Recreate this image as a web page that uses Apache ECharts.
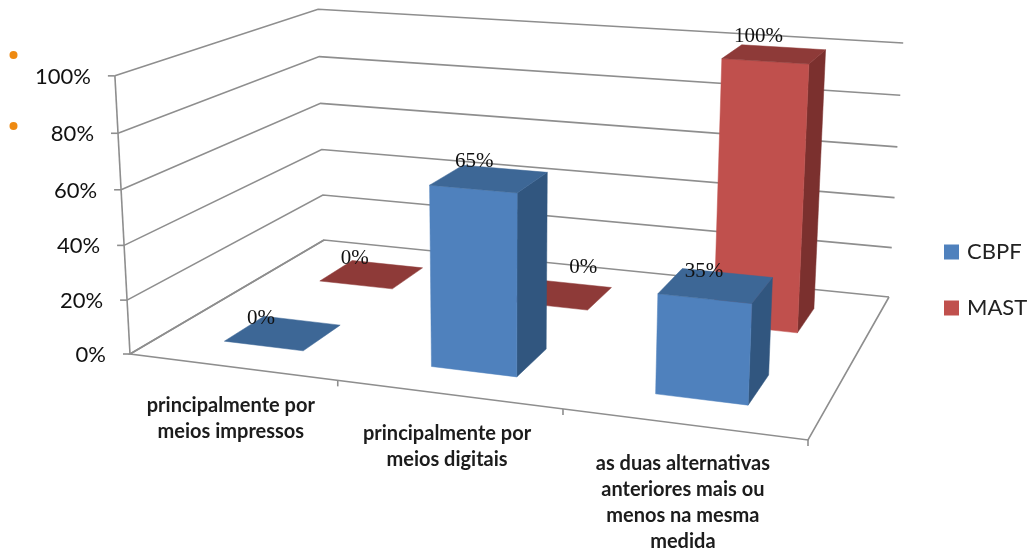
<!DOCTYPE html>
<html><head><meta charset="utf-8">
<style>html,body{margin:0;padding:0;background:#fff}#c{width:1034px;height:553px}</style>
<script src="https://cdn.jsdelivr.net/npm/echarts@6/dist/echarts.min.js"></script>
</head><body><div id="c"></div>
<script>
const categories = ['principalmente por\nmeios impressos','principalmente por\nmeios digitais','as duas alternativas\nanteriores mais ou\nmenos na mesma\nmedida'];
const cbpfValues = [0,65,35];
const mastValues = [0,0,100];
const yTicks = [0,20,40,60,80,100];

/* perspective frame of the box */
const FL=[130,354],FR=[808,440],BR=[889,297],BL=[324,240];
const FLt=[114,75],BRt=[903,43],BLt=[319,10];
function makeProjection(){
  const [x0,y0]=FL,[x1,y1]=FR,[x2,y2]=BR,[x3,y3]=BL;
  const dx1=x1-x2,dx2=x3-x2,sx=x0-x1+x2-x3,dy1=y1-y2,dy2=y3-y2,sy=y0-y1+y2-y3;
  const det=dx1*dy2-dx2*dy1;
  const g=(sx*dy2-dx2*sy)/det,h=(dx1*sy-sx*dy1)/det;
  const a=x1-x0+g*x1,b=x3-x0+h*x3,c=x0,d=y1-y0+g*y1,e=y3-y0+h*y3,f=y0;
  const rows=[],rhs=[];
  [[0,0,FLt],[1,1,BRt],[0,1,BLt]].forEach(([u,v,p])=>{
    const D=g*u+h*v+1;
    rows.push([1,0,-p[0]]);rhs.push(p[0]*D-(a*u+b*v+c));
    rows.push([0,1,-p[1]]);rhs.push(p[1]*D-(d*u+e*v+f));
  });
  const M=[0,1,2].map(i=>[0,1,2].map(j=>rows.reduce((s,r)=>s+r[i]*r[j],0)).concat(rows.reduce((s,r,k)=>s+r[i]*rhs[k],0)));
  for(let i=0;i<3;i++){
    let piv=i;for(let r=i+1;r<3;r++)if(Math.abs(M[r][i])>Math.abs(M[piv][i]))piv=r;
    [M[i],M[piv]]=[M[piv],M[i]];
    for(let r=0;r<3;r++)if(r!==i){const m=M[r][i]/M[i][i];for(let q=i;q<4;q++)M[r][q]-=m*M[i][q];}
  }
  const k1=M[0][3]/M[0][0],k2=M[1][3]/M[1][1],k3=M[2][3]/M[2][2];
  return (u,v,t)=>{const D=g*u+h*v+k3*t+1;return [(a*u+b*v+k1*t+c)/D,(d*u+e*v+k2*t+f)/D];};
}
const P=makeProjection();

const GRID='#8e8e8e';
const lineEl=(pts,w)=>({type:'polyline',shape:{points:pts},style:{stroke:GRID,lineWidth:w||1.6,fill:null}});
const barW=0.39, barD=0.195;
const depthCentre={CBPF:0.2475,MAST:0.7475};
const labelNudgeX=[-1,-1,0], labelNudgeY=[26,26,26.5];
const valueLabelShift={CBPF:[[-22,-15],[-15,-17],[-12,-14]],MAST:[[-17,-16],[22,-27],[-16,-18]]};
const shades={CBPF:{front:'#4f81bd',side:'#31567f',top:'#3d6796'},MAST:{front:'#c0504d',side:'#7b302e',top:'#8e3a38'}};

function unit(params,api,cat,val){
  const cs=params.coordSys,pt=api.coord([cat,val]);
  return {u:(pt[0]-cs.x)/cs.width,t:(cs.y+cs.height-pt[1])/cs.height};
}
function poly(pts,fill){return {type:'polygon',shape:{points:pts},style:{fill:fill,stroke:fill,lineWidth:0.5}};}
function barItem(name){
  return function(params,api){
    const i=api.value(0);
    const {u,t}=unit(params,api,i,api.value(1));
    const val=api.value(1),s=shades[name];
    const u0=u-barW/6,u1=u+barW/6,v0=depthCentre[name]-barD/2,v1=depthCentre[name]+barD/2;
    const kids=[];
    if(t>0){
      kids.push(poly([P(u1,v0,0),P(u1,v1,0),P(u1,v1,t),P(u1,v0,t)],s.side));
      kids.push(poly([P(u0,v0,0),P(u1,v0,0),P(u1,v0,t),P(u0,v0,t)],s.front));
    }
    kids.push(poly([P(u0,v0,t),P(u1,v0,t),P(u1,v1,t),P(u0,v1,t)],s.top));
    const c=P(u,(v0+v1)/2,t),sh=valueLabelShift[name][i];
    kids.push({type:'text',z2:5,style:{text:val+'%',x:c[0]+sh[0],y:c[1]+sh[1],align:'center',verticalAlign:'middle',fontFamily:'Liberation Serif',fontSize:21,fill:'#111'}});
    return {type:'group',children:kids};
  };
}
function wallItem(params,api){
  const {t}=unit(params,api,0,api.value(1));
  const a=P(0,0,t),b=P(0,1,t),c=P(1,1,t);
  return {type:'group',children:[
    lineEl([a,b,c]),
    lineEl([[a[0]-7,a[1]],a]),
    {type:'text',style:{text:api.value(1)+'%',x:a[0]-24,y:a[1]+1,align:'right',verticalAlign:'middle',fontFamily:'Lato',fontSize:22,fill:'#111'}}
  ]};
}
function floorItem(){
  return {type:'group',children:[lineEl([BL,FL,FR,BR]),lineEl([P(0,0,0),P(0,0,1)])]};
}
function categoryItem(params,api){
  const i=api.value(0),{u}=unit(params,api,i,0);
  const m=P(u,0,0),tk=P((i+1)/categories.length,0,0);
  const kids=[{type:'text',style:{text:categories[i],x:m[0]+labelNudgeX[i],y:m[1]+labelNudgeY[i],align:'center',verticalAlign:'top',lineHeight:26,fontFamily:'Lato',fontWeight:'bold',fontSize:20,fill:'#1c1c1c'}}];
  kids.push(lineEl([tk,[tk[0],tk[1]+6]]));
  return {type:'group',children:kids};
}

const chart=echarts.init(document.getElementById('c'),null,{renderer:'canvas'});
chart.setOption({
  animation:false,backgroundColor:'#fff',
  grid:{left:130,top:75,bottom:199,right:226},
  xAxis:{type:'category',data:categories,show:false},
  yAxis:{type:'value',min:0,max:100,interval:20,show:false},
  legend:{data:['CBPF','MAST'],orient:'vertical',left:939,top:236,itemWidth:15,itemHeight:15,itemGap:34,icon:'rect',
    textStyle:{fontFamily:'Lato',fontSize:22,color:'#222',padding:[0,0,0,3]}},
  graphic:[
    {type:'circle',shape:{cx:13.5,cy:55,r:4},style:{fill:'#ee8a12'}},
    {type:'circle',shape:{cx:13.5,cy:126,r:4},style:{fill:'#ee8a12'}}
  ],
  series:[
    {type:'custom',name:'walls',z:1,clip:false,silent:true,renderItem:wallItem,data:yTicks.map(v=>[0,v])},
    {type:'custom',name:'floor',z:1,clip:false,silent:true,renderItem:floorItem,data:[[0,0]]},
    {type:'custom',name:'cats',z:1,clip:false,silent:true,renderItem:categoryItem,data:categories.map((c,i)=>[i,0])},
    {type:'custom',name:'MAST',z:2,clip:false,silent:true,itemStyle:{color:'#c0504d'},renderItem:barItem('MAST'),data:mastValues.map((v,i)=>[i,v])},
    {type:'custom',name:'CBPF',z:3,clip:false,silent:true,itemStyle:{color:'#4f81bd'},renderItem:barItem('CBPF'),data:cbpfValues.map((v,i)=>[i,v])}
  ]
});
</script></body></html>
